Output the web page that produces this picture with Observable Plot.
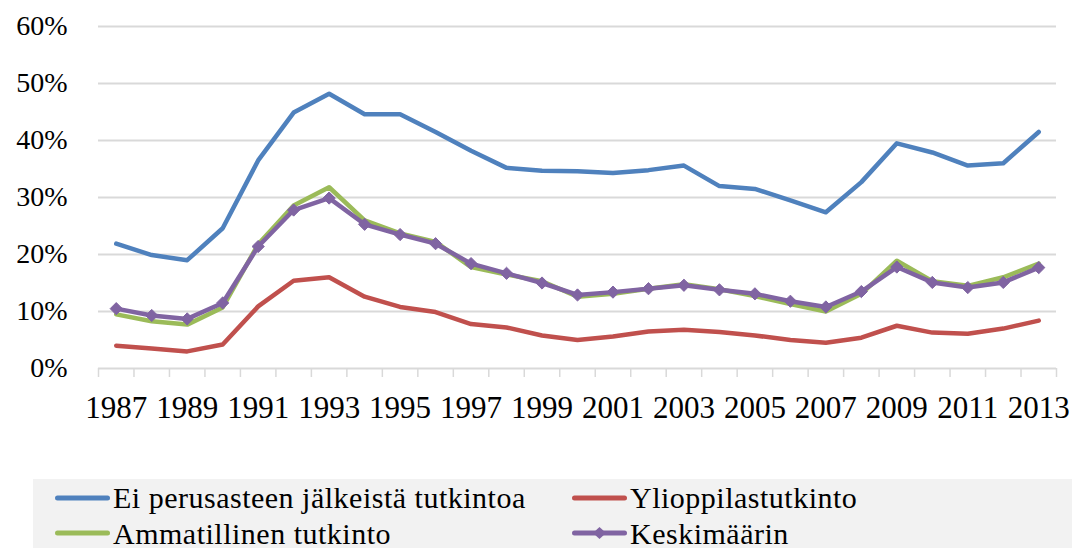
<!DOCTYPE html>
<html>
<head>
<meta charset="utf-8">
<script src="https://cdn.jsdelivr.net/npm/d3@7"></script>
<script src="https://cdn.jsdelivr.net/npm/@observablehq/plot@0.6"></script>
<style>
  html, body { margin: 0; padding: 0; background: #fff; overflow: hidden; }
  #chart svg { display: block; }
  #legend {
    margin-left: 33px; width: 1039px; height: 80px; background: #f2f2f2;
    font-family: "Liberation Serif", "Times New Roman", serif; font-size: 30px; letter-spacing: 0.5px; color: #000;
    display: grid; grid-template-columns: 517px auto; grid-template-rows: 37px 34px; padding-left: 22px; box-sizing: border-box;
  }
  .item { display: flex; align-items: center; white-space: nowrap; line-height: 33px; }
  .item svg { margin-right: 3px; flex: none; }
</style>
</head>
<body>
<div id="chart"></div>
<div id="legend"></div>
<script>
const years = d3.range(1987, 2014);
const seriesNames = ["Ei perusasteen jälkeistä tutkintoa", "Ylioppilastutkinto", "Ammatillinen tutkinto", "Keskimäärin"];
const seriesColors = ["#4f81bd", "#c0504d", "#9bbb59", "#8064a2"];
const eiPerusasteen = [21.9, 19.9, 19.0, 24.6, 36.5, 44.9, 48.2, 44.6, 44.6, 41.5, 38.2, 35.2, 34.7, 34.6, 34.3, 34.8, 35.6, 32.0, 31.5, 29.5, 27.4, 32.7, 39.5, 37.9, 35.6, 36.0, 41.5];
const ylioppilas = [4.0, 3.5, 3.0, 4.2, 10.9, 15.4, 16.0, 12.6, 10.8, 9.9, 7.8, 7.2, 5.8, 5.0, 5.6, 6.5, 6.8, 6.4, 5.8, 5.0, 4.5, 5.4, 7.5, 6.3, 6.1, 7.0, 8.4];
const ammatillinen = [9.5, 8.3, 7.7, 10.7, 21.8, 28.6, 31.8, 26.0, 23.7, 22.2, 17.8, 16.5, 15.3, 12.6, 13.1, 14.0, 14.8, 13.9, 12.7, 11.3, 10.0, 13.1, 18.9, 15.3, 14.5, 16.0, 18.4];
const keskimaarin = [10.5, 9.3, 8.7, 11.5, 21.4, 27.8, 29.9, 25.3, 23.5, 21.9, 18.4, 16.7, 15.0, 12.9, 13.4, 14.0, 14.6, 13.8, 13.1, 11.8, 10.8, 13.5, 17.8, 15.1, 14.2, 15.1, 17.7];
const yTicks = [0, 0.1, 0.2, 0.3, 0.4, 0.5, 0.6];
const xLabelYears = years.filter(y => (y - 1987) % 2 === 0);

const allValues = [eiPerusasteen, ylioppilas, ammatillinen, keskimaarin];
const rows = [];
allValues.forEach((vals, si) => vals.forEach((v, i) => rows.push({series: seriesNames[si], year: years[i], value: v / 100})));
const bySeries = name => rows.filter(r => r.series === name);
const boundaries = d3.range(years.length + 1).map(i => years[0] - 0.5 + i);

const lineOpts = (i) => ({x: "year", y: "value", stroke: seriesColors[i], strokeWidth: 4.5, strokeLinejoin: "round", strokeLinecap: "round"});

const chart = Plot.plot({
  width: 1072,
  height: 479,
  marginLeft: 98,
  marginRight: 16,
  marginTop: 26,
  marginBottom: 111,
  style: {fontFamily: "'Liberation Serif', 'Times New Roman', serif", color: "#000", background: "#fff"},
  x: {type: "linear", domain: [years[0] - 0.5, years[years.length - 1] + 0.5]},
  y: {domain: [0, 0.6]},
  marks: [
    Plot.gridY(yTicks, {stroke: "#d9d9d9", strokeOpacity: 1, strokeWidth: 2}),
    Plot.axisX({ticks: boundaries, tickSize: 9, tickFormat: () => "", stroke: "#d9d9d9", strokeWidth: 1.5, strokeOpacity: 1, label: null}),
    Plot.axisX({ticks: xLabelYears, tickSize: 0, tickPadding: 27, tickFormat: d => String(d), fontSize: 31, label: null, fill: "#000"}),
    Plot.axisY({ticks: yTicks, tickSize: 0, tickPadding: 31, tickFormat: d3.format(".0%"), fontSize: 28, label: null, fill: "#000"}),
    Plot.line(bySeries(seriesNames[0]), lineOpts(0)),
    Plot.line(bySeries(seriesNames[1]), lineOpts(1)),
    Plot.line(bySeries(seriesNames[2]), lineOpts(2)),
    Plot.line(bySeries(seriesNames[3]), lineOpts(3)),
    Plot.dot(bySeries(seriesNames[3]), {x: "year", y: "value", symbol: "diamond2", r: 5.5, fill: seriesColors[3], stroke: seriesColors[3], strokeWidth: 1})
  ]
});
document.getElementById("chart").appendChild(chart);

const legend = document.getElementById("legend");
[0, 1, 2, 3].forEach(i => {
  const item = document.createElement("div");
  item.className = "item";
  const marker = i === 3 ? `<path d="M27.5,10 L34,16 L27.5,22 L21,16 Z" fill="${seriesColors[i]}"/>` : "";
  item.innerHTML = `<svg width="55" height="32" viewBox="0 0 55 32"><line x1="2.5" y1="16" x2="52.5" y2="16" stroke="${seriesColors[i]}" stroke-width="5" stroke-linecap="round"/>${marker}</svg><span>${seriesNames[i]}</span>`;
  legend.appendChild(item);
});
</script>
</body>
</html>
